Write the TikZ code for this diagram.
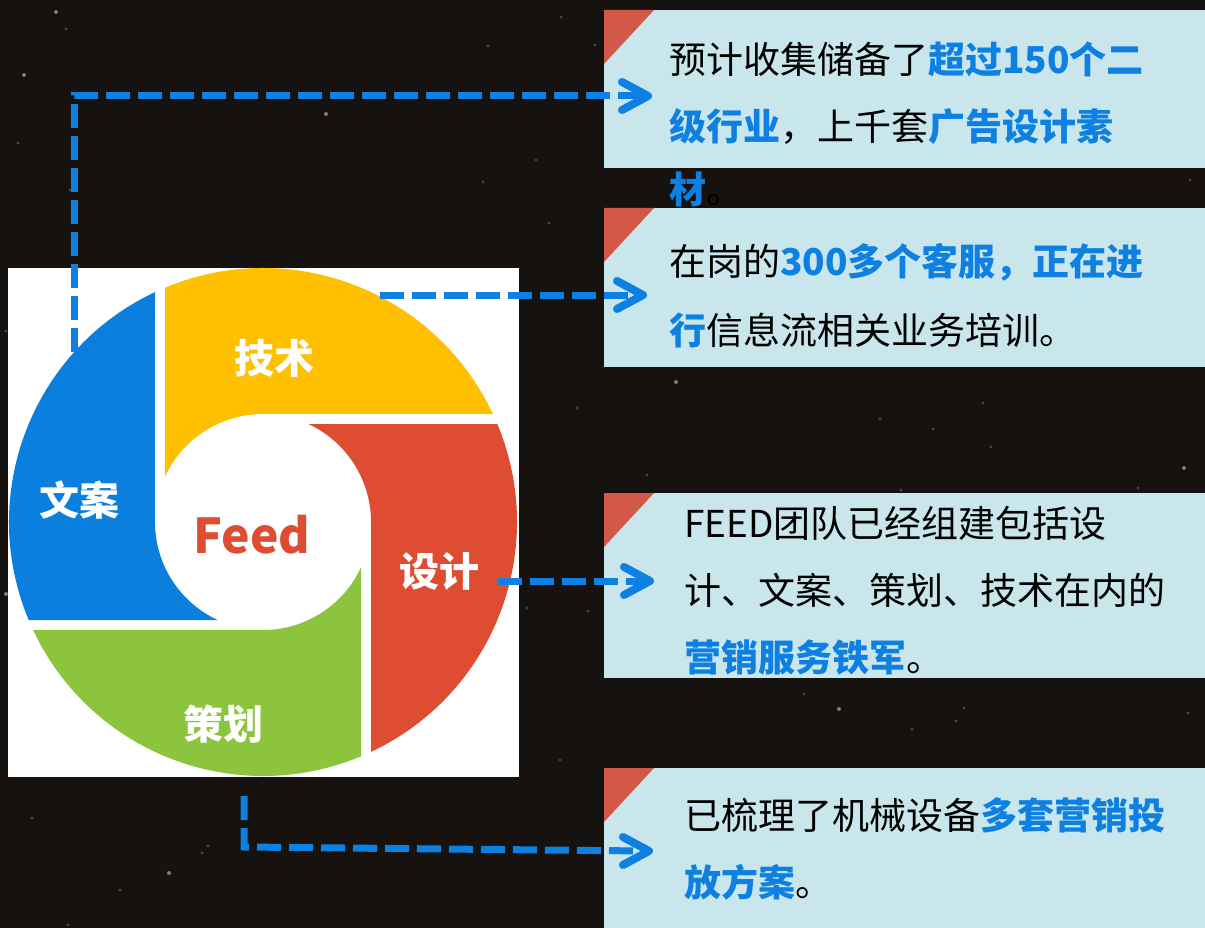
\documentclass[tikz,border=0pt]{standalone}
\usepackage{fontspec}
\usetikzlibrary{calc}
\newfontfamily\cjk{Noto Sans CJK SC}
\definecolor{bgdark}{RGB}{21,18,15}
\definecolor{segblue}{RGB}{11,127,222}
\definecolor{segyellow}{RGB}{255,192,0}
\definecolor{segred}{RGB}{222,76,49}
\definecolor{seggreen}{RGB}{140,196,62}
\definecolor{feedred}{RGB}{222,76,50}
\definecolor{boxfill}{RGB}{201,230,236}
\definecolor{trired}{RGB}{210,88,72}
\definecolor{hlblue}{RGB}{13,128,226}
\definecolor{lineblue}{RGB}{13,128,226}
\newcommand\hlb[1]{{\bfseries\color{hlblue}#1}}
\tikzset{
  lbl/.style={text=white, font=\cjk\bfseries\fontsize{40}{40}\selectfont, inner sep=0pt, anchor=center},
  boxstyle/.style={fill=boxfill, draw=none, inner sep=0pt, anchor=north west, minimum width=601pt},
  tline/.style={anchor=base west, inner sep=0pt, font=\cjk\fontsize{37}{37}\selectfont, text=black},
  conn/.style={draw=lineblue, line width=7pt, dash pattern=on 24pt off 8pt},
  chev/.style={draw=lineblue, line width=8pt, line cap=round, line join=round},
  tri/.style={fill=trired},
  starA/.style={fill=white, opacity=0.45},
  starB/.style={fill=white, opacity=0.22},
}
\begin{document}
\begin{tikzpicture}[x=1pt,y=-1pt]
\useasboundingbox (0,0) rectangle (1205,928);
\fill[bgdark] (0,0) rectangle (1205,928);
% stars
\foreach \p in {(56,12),(24,75),(326,114),(839,709),(169,873),(1184,468),(676,382),(6,594)}
  \fill[starA] \p circle[radius=2];
\foreach \p in {(66,29),(18,143),(488,46),(536,160),(483,182),(549,223),(561,17),(70,190),
  (202,853),(68,925),(32,818),(208,846),(577,408),(880,419),(933,429),(983,403),(991,447),
  (647,475),(901,490),(1138,488),(804,694),(964,708),(956,721),(912,729),(1188,713),
  (527,608),(588,611),(6,331),(595,45),(1190,180),(560,760),(120,890)}
  \fill[starB] \p circle[radius=1.6];
% white panel
\fill[white] (8,268) rectangle (519,777);
% pinwheel
\foreach \r/\c in {0/segyellow,90/segblue,180/seggreen,270/segred}{
  \begin{scope}[shift={(263,522)}, rotate=\r]
    \fill[\c] (-98,-234.3) -- (-98,-45.4)
      arc[start angle=204.85, end angle=270, radius=108]
      -- (229.9,-108)
      arc[start angle=334.83, end angle=247.3, radius=254] -- cycle;
  \end{scope}
}
\node[lbl] (ljs) at (274,358) {技术};
\node[lbl] (lwa) at (79,500) {文案};
\node[lbl] (lsj) at (439,571) {设计};
\node[lbl] (lch) at (223,724) {策划};
\node[text=feedred, font=\cjk\bfseries\fontsize{48}{48}\selectfont, inner sep=0pt] (feed) at (252,535) {Feed};
% boxes
\node[boxstyle, minimum height=158pt] (box1) at (604,10) {};
\node[boxstyle, minimum height=159pt] (box2) at (604,208) {};
\node[boxstyle, minimum height=185pt] (box3) at (604,493) {};
\node[boxstyle, minimum height=170pt] (box4) at (604,768) {};
\foreach \b in {box1,box2,box3,box4}
  \fill[tri] (\b.north west) -- ++(50,0) -- ++(-50,54) -- cycle;
% texts
\node[tline] (b1a) at (669,74) {预计收集储备了\hlb{超过150个二}};
\node[tline] (b1b) at (669,141) {\hlb{级行业}，上千套\hlb{广告设计素}};
\node[tline] (b1c) at (669,204) {\hlb{材}。};
\node[tline] (b2a) at (669,276) {在岗的\hlb{300多个客服，正在进}};
\node[tline] (b2b) at (669,344) {\hlb{行}信息流相关业务培训。};
\node[tline] (b3a) at (684,537) {FEED团队已经组建包括设};
\node[tline] (b3b) at (684,604) {计、文案、策划、技术在内的};
\node[tline] (b3c) at (684,671) {\hlb{营销服务铁军}。};
\node[tline] (b4a) at (684,829) {已梳理了机械设备\hlb{多套营销投}};
\node[tline] (b4b) at (684,896) {\hlb{放方案}。};
% connectors
\coordinate (s1) at (74,352); \coordinate (c1) at (74,96); \coordinate (t1) at (648,96);
\coordinate (s2) at (380,295); \coordinate (t2) at (643,295);
\coordinate (s3) at (498,581); \coordinate (t3) at (650,581);
\coordinate (s4) at (244,796); \coordinate (c4) at (244,847); \coordinate (t4) at (649,851);
\draw[conn] (s1) -- (c1) -- ($(t1)+(-4,0)$);
\draw[conn] (s2) -- ($(t2)+(-4,0)$);
\draw[conn] (s3) -- ($(t3)+(-4,0)$);
\draw[conn] (s4) -- (c4) -- ($(t4)+(-4,0)$);
\foreach \t in {t1,t2,t3,t4}
  \draw[chev] ($(\t)+(-26,-14)$) -- (\t) -- ($(\t)+(-26,14)$);
\end{tikzpicture}
\end{document}
